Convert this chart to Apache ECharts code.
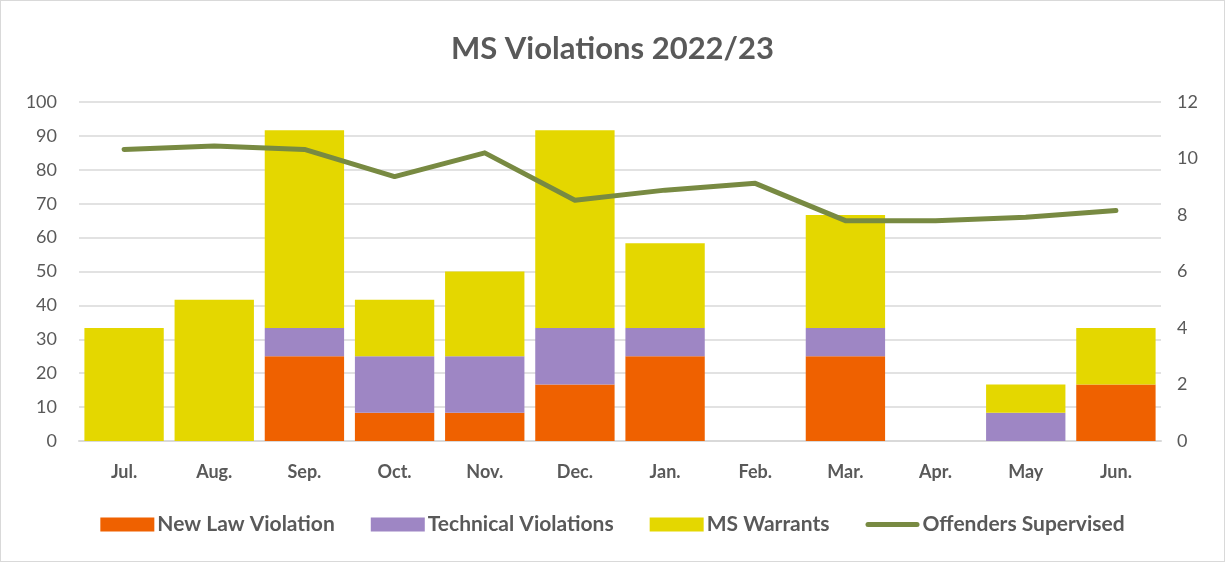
<!DOCTYPE html>
<html>
<head>
<meta charset="utf-8">
<script src="https://cdn.jsdelivr.net/npm/echarts@6/dist/echarts.min.js"></script>
<style>
  html, body { margin: 0; padding: 0; background: #fff; }
  #chart { width: 1223px; height: 560px; border: 1px solid #d9d9d9; }
</style>
</head>
<body>
<div id="chart"></div>
<script>
const months = ['Jul.', 'Aug.', 'Sep.', 'Oct.', 'Nov.', 'Dec.', 'Jan.', 'Feb.', 'Mar.', 'Apr.', 'May', 'Jun.'];
const newLaw = [0, 0, 3, 1, 1, 2, 3, 0, 3, 0, 0, 2];
const technical = [0, 0, 1, 2, 2, 2, 1, 0, 1, 0, 1, 0];
const warrants = [4, 5, 7, 2, 3, 7, 3, 0, 4, 0, 1, 2];
const supervised = [86, 87, 86, 78, 85, 71, 74, 76, 65, 65, 66, 68];

const font = 'Lato, "Open Sans", sans-serif';
const grey = '#595959';

const chart = echarts.init(document.getElementById('chart'));

const barSeries = (name, data, color) => ({
  name,
  type: 'bar',
  stack: 'total',
  yAxisIndex: 1,
  barCategoryGap: '12%',
  itemStyle: { color },
  data,
});

chart.setOption({
  animation: false,
  textStyle: { fontFamily: font },
  title: {
    text: 'MS Violations 2022/23',
    left: 'center',
    top: 27,
    textStyle: { fontSize: 31, fontWeight: 'bold', color: grey, fontFamily: font },
  },
  grid: { left: 78, right: 63, top: 101, bottom: 120 },
  legend: {
    bottom: 21,
    left: 'center',
    itemGap: 36,
    itemWidth: 54,
    itemHeight: 14,
    textStyle: { fontSize: 21, fontWeight: 'bold', color: grey, padding: [0, 0, 0, -2] },
    data: [
      { name: 'New Law Violation', icon: 'rect' },
      { name: 'Technical Violations', icon: 'rect' },
      { name: 'MS Warrants', icon: 'rect' },
      { name: 'Offenders Supervised', icon: 'path://M2.5,0 L51.5,0 A2.5,2.5 0 0 1 51.5,5 L2.5,5 A2.5,2.5 0 0 1 2.5,0 Z' },
    ],
  },
  xAxis: {
    type: 'category',
    data: months,
    axisTick: { show: false },
    axisLine: { lineStyle: { color: '#d9d9d9', width: 2 } },
    axisLabel: { color: grey, fontSize: 18, fontWeight: 'bold', margin: 22 },
  },
  yAxis: [
    {
      type: 'value',
      min: 0,
      max: 100,
      interval: 10,
      axisLabel: { color: grey, fontSize: 18, margin: 22 },
      splitLine: { lineStyle: { color: '#d9d9d9', width: 1.5 } },
    },
    {
      type: 'value',
      min: 0,
      max: 12,
      interval: 2,
      position: 'right',
      axisLabel: { color: grey, fontSize: 18, margin: 16 },
      splitLine: { show: false },
    },
  ],
  series: [
    barSeries('New Law Violation', newLaw, '#ef6100'),
    barSeries('Technical Violations', technical, '#9e86c4'),
    barSeries('MS Warrants', warrants, '#e4d700'),
    {
      name: 'Offenders Supervised',
      type: 'line',
      yAxisIndex: 0,
      symbol: 'none',
      lineStyle: { color: '#788a42', width: 5, cap: 'round', join: 'round' },
      itemStyle: { color: '#788a42' },
      data: supervised,
    },
  ],
});
</script>
</body>
</html>
